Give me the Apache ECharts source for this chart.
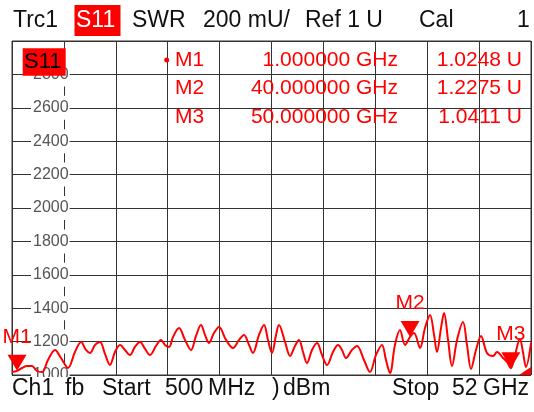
<!DOCTYPE html>
<html>
<head>
<meta charset="utf-8">
<script src="https://cdn.jsdelivr.net/npm/echarts@6/dist/echarts.min.js"></script>
<style>
  html, body { margin: 0; padding: 0; background: #fff; }
  #chart { width: 534px; height: 412px; }
</style>
</head>
<body>
<div id="chart"></div>
<script>
// trace S11 SWR, frequency in GHz, value in mU
const freqGHz = [0.5,1.0,1.49,1.99,2.48,2.98,3.48,4.07,4.77,5.36,
  6.06,6.75,7.35,7.84,8.24,8.74,9.23,9.73,10.22,10.72,
  11.22,11.71,12.21,12.70,13.20,13.70,14.19,14.79,15.28,15.68,
  16.08,16.48,17.07,17.67,18.26,18.76,19.25,19.65,20.05,20.54,
  21.04,21.74,22.43,23.03,23.52,24.02,24.41,25.01,25.51,25.90,
  26.30,26.70,26.99,27.59,28.09,28.58,28.98,29.38,29.77,30.27,
  30.77,31.26,31.76,32.35,32.85,33.25,33.64,34.24,34.73,35.43,
  36.02,36.62,37.21,37.61,38.01,38.50,39.00,39.50,40.0,40.39,
  40.99,41.48,41.98,42.38,42.67,43.07,43.37,43.77,44.16,44.66,
  45.25,45.65,46.05,46.54,47.04,47.63,48.23,48.63,49.22,49.62,
  50.0,50.41,50.90,51.20,51.50,52.0]
const swrMU = [1018,1025,1042,1054,1054,1024,1018,1090,1150,1102,
  1042,1138,1198,1150,1132,1180,1198,1126,1060,1138,
  1180,1150,1120,1168,1198,1156,1120,1174,1210,1180,
  1168,1228,1281,1210,1150,1234,1299,1240,1192,1251,
  1287,1210,1162,1210,1240,1180,1132,1240,1299,1210,
  1132,1240,1299,1198,1114,1174,1210,1138,1072,1150,
  1192,1120,1060,1138,1180,1150,1102,1150,1174,1090,
  1018,1120,1180,1090,1012,1180,1269,1180,1228,1251,
  1162,1281,1359,1240,1138,1281,1371,1210,1054,1210,
  1317,1180,1036,1150,1234,1132,1114,1138,1102,1078,
  1041,1120,1216,1138,1048,1192]

// markers
const markerNames = ['M1', 'M2', 'M3']
const markerFreq = [1, 40, 50]
const markerU = [1.0248, 1.2275, 1.0411]

// axis settings
const yMin = 1000
const yMax = 3000
const yStep = 200
const xStart = 0.5
const xStop = 52

const RED = '#ff0000'
const FONT = '"Liberation Sans", Arial, sans-serif'

const chart = echarts.init(document.getElementById('chart'))

const text = (x, y, s, extra) => ({
  type: 'text', x: x, y: y, z: 120,
  style: Object.assign({
    text: s, fontSize: 23, fontFamily: FONT, fill: '#111',
    verticalAlign: 'middle', textVerticalAlign: 'middle'
  }, extra || {})
})

const tableRows = []
markerNames.forEach((name, i) => {
  const y = 60 + i * 28.5
  tableRows.push(text(175, y, name, { fill: RED, fontSize: 21 }))
  tableRows.push(text(398, y, markerFreq[i].toFixed(6) + ' GHz', { fill: RED, fontSize: 21, align: 'right', textAlign: 'right' }))
  tableRows.push(text(522, y, markerU[i].toFixed(4) + ' U', { fill: RED, fontSize: 21, align: 'right', textAlign: 'right' }))
})

const option = {
  animation: false,
  grid: { left: 12, top: 41, width: 519, height: 334, show: true, borderColor: '#333', borderWidth: 1 },
  xAxis: [
    { type: 'value', min: xStart, max: xStop, show: false },
    {
      type: 'value', min: 0, max: 10, interval: 1, z: 0,
      axisLine: { show: false }, axisTick: { show: false }, axisLabel: { show: false },
      splitLine: { show: true, lineStyle: { color: '#333', width: 1 } }
    }
  ],
  yAxis: {
    type: 'value', min: yMin, max: yMax, interval: yStep, z: 1,
    axisLine: { show: false }, axisTick: { show: false },
    splitLine: { show: true, lineStyle: { color: '#333', width: 1 } },
    axisLabel: {
      inside: true, margin: 19, showMaxLabel: false,
      formatter: v => String(v),
      color: '#555', fontSize: 16, fontFamily: FONT,
      backgroundColor: '#fff', padding: [4, 1, 4, 2]
    }
  },
  series: [{
    type: 'line',
    xAxisIndex: 0,
    data: freqGHz.map((f, i) => [f, swrMU[i]]),
    symbol: 'none',
    smooth: 0.35,
    lineStyle: { color: RED, width: 2 },
    z: 3,
    markPoint: {
      symbol: 'triangle',
      symbolRotate: 180,
      symbolSize: [19, 16],
      symbolOffset: [0, -8],
      itemStyle: { color: RED },
      label: {
        show: true, position: 'top', distance: 7,
        color: RED, fontSize: 21, fontFamily: FONT,
        formatter: p => p.name
      },
      data: markerNames.map((n, i) => ({ name: n, coord: [markerFreq[i], markerU[i] * 1000] }))
    }
  }],
  graphic: [
    // cover below the plot frame
    { type: 'rect', z: 100, shape: { x: 0, y: 377, width: 534, height: 35 }, style: { fill: '#fff' } },
    // header
    text(13, 20.5, 'Trc1'),
    { type: 'rect', z: 110, shape: { x: 74.5, y: 5, width: 46, height: 31 }, style: { fill: RED } },
    text(76, 20.5, 'S11', { fill: '#fff' }),
    text(132, 20.5, 'SWR'),
    text(203, 20.5, '200 mU/'),
    text(305, 20.5, 'Ref 1 U'),
    text(419, 20.5, 'Cal'),
    text(517, 20.5, '1'),
    // trace tag in plot
    { type: 'rect', z: 110, shape: { x: 22.7, y: 48.3, width: 43, height: 27.4 }, style: { fill: RED } },
    text(24, 62, 'S11', { fill: '#000', fontSize: 22 }),
    { type: 'circle', z: 110, shape: { cx: 166.7, cy: 60, r: 2.5 }, style: { fill: RED } },
    ...tableRows,
    // red corner flag at bottom right
    { type: 'polygon', z: 90, shape: { points: [[519, 375], [531, 375], [531, 367]] }, style: { fill: RED } },
    // footer
    text(12, 389, 'Ch1'),
    text(65, 389, 'fb'),
    text(102, 389, 'Start'),
    text(165, 389, '500'),
    text(208, 389, 'MHz'),
    text(272, 389, ')'),
    text(283, 389, 'dBm'),
    text(392, 389, 'Stop'),
    text(452, 389, '52'),
    text(483, 389, 'GHz')
  ]
}

chart.setOption(option)
</script>
</body>
</html>
